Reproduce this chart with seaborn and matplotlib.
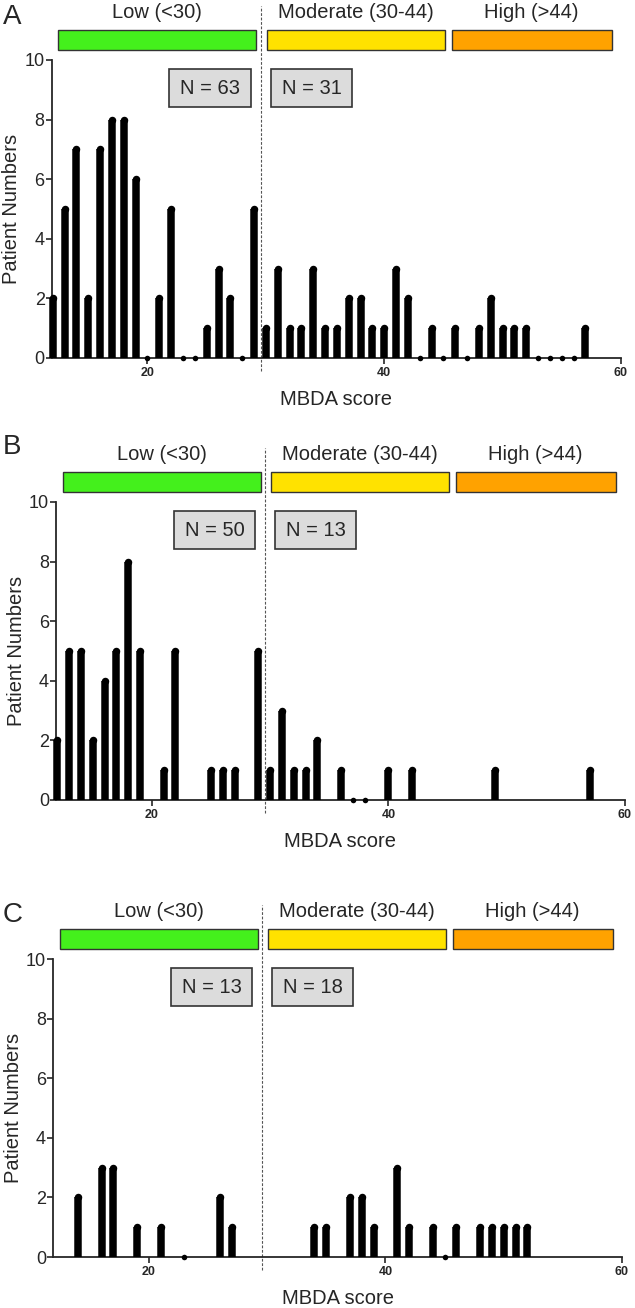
import matplotlib
matplotlib.use("Agg")
import matplotlib.pyplot as plt
from matplotlib.patches import Rectangle
import pandas as pd
import seaborn as sns

# MBDA score -> number of patients (explicit zeros are drawn as dots)
score_a = list(range(12, 58))
count_a = [2, 5, 7, 2, 7, 8, 8, 6, 0, 2, 5, 0, 0, 1, 3, 2, 0, 5,
           1, 3, 1, 1, 3, 1, 1, 2, 2, 1, 1, 3, 2, 0, 1, 0, 1, 0,
           1, 2, 1, 1, 1, 0, 0, 0, 0, 1]

score_b = [12, 13, 14, 15, 16, 17, 18, 19, 21, 22, 25, 26, 27, 29,
           30, 31, 32, 33, 34, 36, 37, 38, 40, 42, 49, 57]
count_b = [2, 5, 5, 2, 4, 5, 8, 5, 1, 5, 1, 1, 1, 5,
           1, 3, 1, 1, 2, 1, 0, 0, 1, 1, 1, 1]

score_c = [14, 16, 17, 19, 21, 23, 26, 27,
           34, 35, 37, 38, 39, 41, 42, 44, 45, 46, 48, 49, 50, 51, 52]
count_c = [2, 3, 3, 1, 1, 0, 2, 1,
           1, 1, 2, 2, 1, 3, 1, 1, 0, 1, 1, 1, 1, 1, 1]

panel_letters = ['A', 'B', 'C']
n_low = [63, 50, 13]
n_high = [31, 13, 18]

band_labels = ['Low (<30)', 'Moderate (30-44)', 'High (>44)']
band_edges = [(12.45, 29.2), (30.1, 45.1), (45.7, 59.2)]
band_colors = ['#44f01c', '#ffe200', '#ffa200']

sns.set_style('ticks')
plt.rcParams['font.family'] = ['Liberation Sans', 'DejaVu Sans']
plt.rcParams['axes.linewidth'] = 1.3

W, H = 635, 1308
fig = plt.figure(figsize=(W / 100, H / 100), dpi=100)

# pixel boxes (left, right, top, bottom) and letter top for each panel
boxes = [(51.6, 621, 60, 358), (56, 625, 502, 800), (53, 622, 959, 1257)]
letter_top = [4, 434, 902]
datasets = [(score_a, count_a), (score_b, count_b), (score_c, count_c)]

for i, (l, r, t, b) in enumerate(boxes):
    ax = fig.add_axes([l / W, 1 - b / H, (r - l) / W, (b - t) / H])
    score, count = datasets[i]
    df = pd.DataFrame({'score': score, 'count': count})
    bars = df[df['count'] > 0]
    zeros = df[df['count'] == 0]

    # stems with rounded tops
    ax.vlines(bars['score'], 0, bars['count'], color='black', linewidth=5.4,
              capstyle='butt', clip_on=False, zorder=3)
    sns.scatterplot(data=bars, x='score', y='count', ax=ax, color='black',
                    s=29, linewidth=0, marker='o', clip_on=False, zorder=4,
                    legend=False)
    sns.scatterplot(data=zeros, x='score', y='count', ax=ax, color='black',
                    s=16, linewidth=0, marker='o', clip_on=False, zorder=4,
                    legend=False)

    ax.set_xlim(11.9, 60)
    ax.set_ylim(0, 10)
    ax.set_xticks([20, 40, 60])
    ax.set_yticks(range(0, 11, 2))
    ax.tick_params(axis='y', labelsize=13, length=4, width=1.2, pad=1)
    ax.tick_params(axis='x', labelsize=9, length=4.5, width=1.2, pad=2)
    for lab in ax.get_xticklabels():
        lab.set_fontweight('bold')
    ax.set_ylabel('Patient Numbers', fontsize=14.5)
    ax.yaxis.set_label_coords(-0.053, 0.5)
    ax.set_xlabel('MBDA score', fontsize=14.5, labelpad=8)
    sns.despine(ax=ax)

    # risk band bars above the plot
    for (x0, x1), lab, col in zip(band_edges, band_labels, band_colors):
        ax.add_patch(Rectangle((x0, 10.34), x1 - x0, 0.68, facecolor=col,
                               edgecolor='#333333', linewidth=1.0,
                               clip_on=False, zorder=5))
        ax.text((x0 + x1) / 2, 11.6, lab, ha='center', va='center',
                fontsize=14.5, clip_on=False)

    # cut-off line at 30
    ax.plot([29.6, 29.6], [-0.45, 11.8], color='#555555', linewidth=0.8,
            linestyle=(0, (2.5, 1.5)), clip_on=False, zorder=2)

    # N boxes
    for (x0, x1), n in zip([(21.85, 28.75), (30.45, 37.3)], [n_low[i], n_high[i]]):
        ax.add_patch(Rectangle((x0, 8.42), x1 - x0, 1.28, facecolor='#dcdcdc',
                               edgecolor='#333333', linewidth=1.2, zorder=5))
        ax.text((x0 + x1) / 2, 9.06, f'N = {n}', ha='center', va='center',
                fontsize=14.5, zorder=6)

    fig.text(3 / W, 1 - letter_top[i] / H, panel_letters[i], fontsize=20,
             ha='left', va='top')

plt.savefig('out.png', dpi=100)
